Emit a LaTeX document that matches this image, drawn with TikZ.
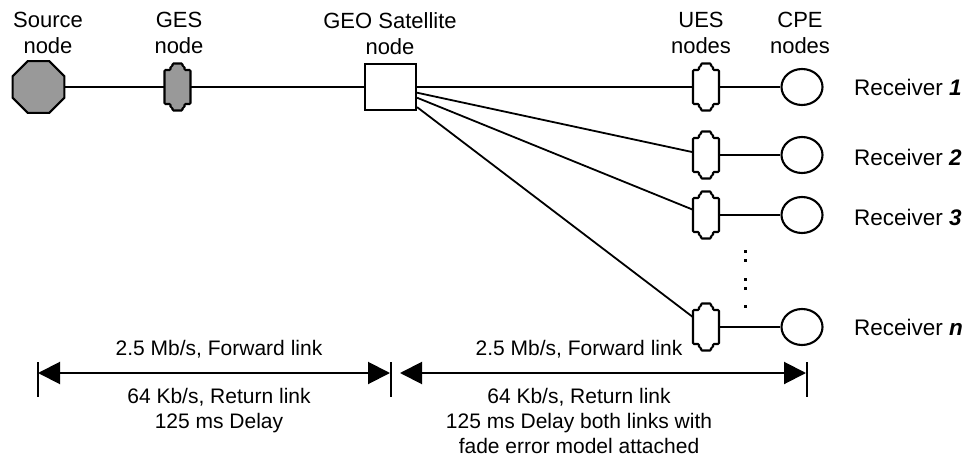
\documentclass[tikz,border=0pt]{standalone}
\usepackage{fontspec}
\setmainfont{Liberation Sans}
\usetikzlibrary{shapes.geometric,arrows.meta}
\definecolor{ndgray}{RGB}{153,153,153}
\begin{document}
\begin{tikzpicture}[x=1pt,y=-1pt,
  conn/.style={line width=1.8pt},
  outl/.style={line width=2.1pt},
  toplabel/.style={font=\fontsize{22}{26}\selectfont, align=center, anchor=north, inner sep=0pt},
  botlabel/.style={font=\fontsize{21}{25}\selectfont, align=center, inner sep=0pt},
  rxlabel/.style={font=\fontsize{22.5}{26}\selectfont, anchor=west, inner sep=0pt},
  esnode/.style={rectangle, minimum width=26pt, minimum height=34pt, inner sep=0pt, draw=none},
  esshape/.pic={\draw[outl, rounded corners=1pt, pic actions]
     (-13,-17) -- (-7,-17) -- (-7,-20.5) -- (-5,-20.5) -- (-5,-23.5) -- (5,-23.5) -- (5,-20.5) -- (7,-20.5) -- (7,-17) -- (13,-17)
     -- (13,17) -- (7,17) -- (7,20.5) -- (5,20.5) -- (5,23.5) -- (-5,23.5) -- (-5,20.5) -- (-7,20.5) -- (-7,17) -- (-13,17) -- cycle;},
  srcnode/.style={regular polygon, regular polygon sides=8, minimum size=56pt, inner sep=0pt, draw, outl, fill=ndgray},
  satnode/.style={rectangle, draw, outl, minimum width=51pt, minimum height=46pt, inner sep=0pt, fill=white},
  cpenode/.style={ellipse, draw, outl, minimum width=41pt, minimum height=36pt, inner sep=0pt},
  tick/.style={line width=1.7pt},
  dimarrow/.style={line width=2pt, {Triangle[length=22pt,width=22pt]}-{Triangle[length=22pt,width=22pt]}}
]
\useasboundingbox (0,0) rectangle (971,457);

% nodes
\node[srcnode] (src) at (38.5,87) {};
\node[esnode] (ges) at (177.5,87) {};
\pic[fill=ndgray] at (ges) {esshape};
\node[satnode] (sat) at (390.5,87) {};

\node[esnode] (ues1) at (706,87) {};
\node[esnode] (ues2) at (706,155) {};
\node[esnode] (ues3) at (706,215) {};
\node[esnode] (uesn) at (706,327) {};
\pic[fill=white] at (ues1) {esshape};
\pic[fill=white] at (ues2) {esshape};
\pic[fill=white] at (ues3) {esshape};
\pic[fill=white] at (uesn) {esshape};

\node[cpenode] (cpe1) at (802,87) {};
\node[cpenode] (cpe2) at (802,155) {};
\node[cpenode] (cpe3) at (802,215) {};
\node[cpenode] (cpen) at (802,327) {};

% connectors
\draw[conn] (src) -- (ges);
\draw[conn] (ges) -- (sat);
\draw[conn] (sat) -- (ues1);
\draw[conn] (sat) -- (ues2);
\draw[conn] (sat) -- (ues3);
\draw[conn] (sat) -- (uesn);
\draw[conn] (ues1) -- (cpe1);
\draw[conn] (ues2) -- (cpe2);
\draw[conn] (ues3) -- (cpe3);
\draw[conn] (uesn) -- (cpen);

% dots
\foreach \yy in {251,260,279,288,306} \fill (743.5,\yy-1.5) rectangle ++(3,3);

% labels
\node[toplabel] (lsrc) at (48,12) {Source\\node};
\node[toplabel] (lges) at (179,12) {GES\\node};
\node[toplabel] (lsat) at (390,12) {GEO Satellite\\node};
\node[toplabel] (lues) at (701,12) {UES\\nodes};
\node[toplabel] (lcpe) at (800,12) {CPE\\nodes};

\node[rxlabel] (rx1) at (854,87) {Receiver \textbf{\textit{1}}};
\node[rxlabel] (rx2) at (854,157) {Receiver \textbf{\textit{2}}};
\node[rxlabel] (rx3) at (854,217) {Receiver \textbf{\textit{3}}};
\node[rxlabel] (rxn) at (854,327) {Receiver \textbf{\textit{n}}};

% dimension lines
\coordinate (t1a) at (38,362); \coordinate (t1b) at (38,397);
\coordinate (t2a) at (391,362); \coordinate (t2b) at (391,397);
\coordinate (t3a) at (807,362); \coordinate (t3b) at (807,397);
\draw[tick] (t1a) -- (t1b);
\draw[tick] (t2a) -- (t2b);
\draw[tick] (t3a) -- (t3b);
\coordinate (a1s) at (38,373); \coordinate (a1e) at (390,373);
\coordinate (a2s) at (400,373); \coordinate (a2e) at (806,373);
\draw[dimarrow] (a1s) -- (a1e);
\draw[dimarrow] (a2s) -- (a2e);

\node[botlabel, anchor=base] (fw1) at (219,355) {2.5 Mb/s, Forward link};
\node[botlabel, anchor=north] (rt1) at (219,388) {64 Kb/s, Return link\\125 ms Delay};
\node[botlabel, anchor=base] (fw2) at (579,355) {2.5 Mb/s, Forward link};
\node[botlabel, anchor=north] (rt2) at (579,388) {64 Kb/s, Return link\\125 ms Delay both links with\\fade error model attached};
\end{tikzpicture}
\end{document}
